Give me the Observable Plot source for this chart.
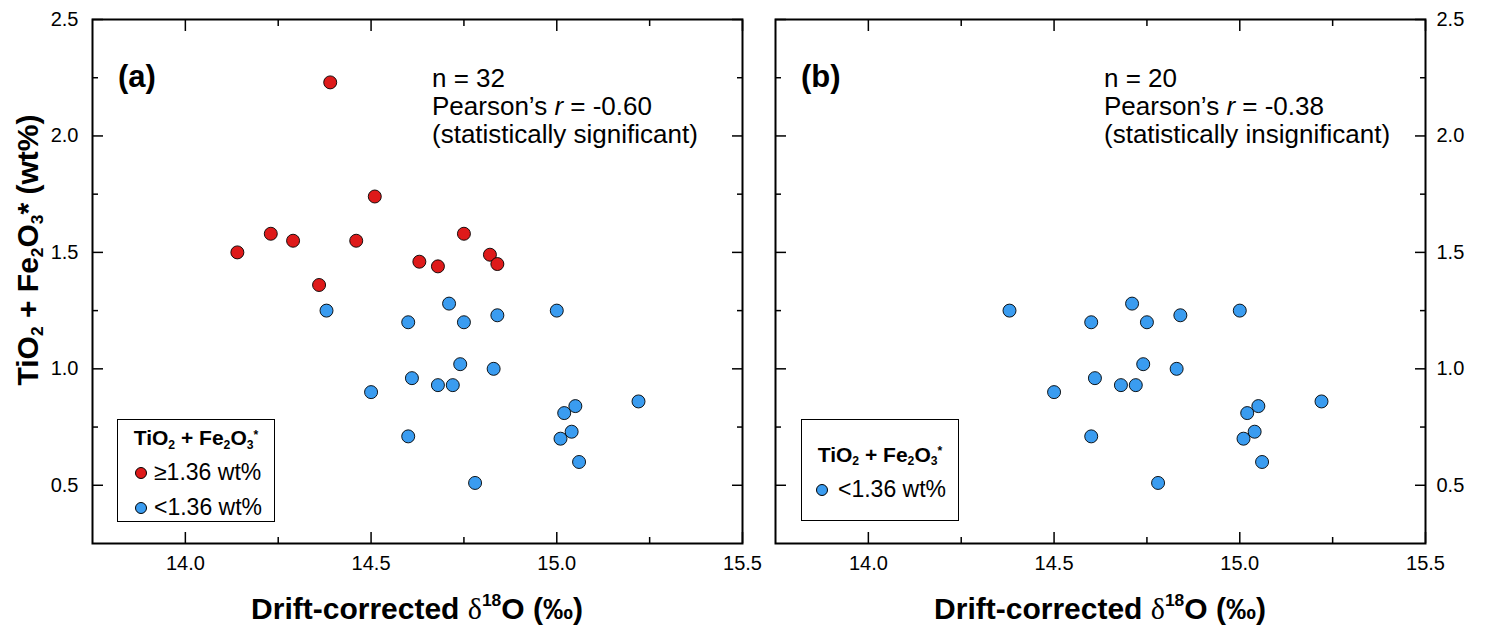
<!DOCTYPE html>
<html>
<head>
<meta charset="utf-8">
<script src="https://cdn.jsdelivr.net/npm/d3@7"></script>
<script src="https://cdn.jsdelivr.net/npm/@observablehq/plot@0.6"></script>
<style>
  html, body { margin: 0; padding: 0; background: #fff; }
  #chart { position: relative; width: 1487px; height: 632px; overflow: hidden; font-family: "Liberation Sans", Arial, sans-serif; color: #000; }
  .plot { position: absolute; top: 0; }
  .abs { position: absolute; white-space: nowrap; }
  .panel { font-weight: bold; font-size: 31px; line-height: 34px; }
  .note { font-size: 26px; line-height: 28px; }
  .axlab { font-weight: bold; font-size: 30px; line-height: 34px; text-align: center; }
  .axlab sub, .axlab sup, .leg sub, .leg sup { font-size: 58%; line-height: 0; position: relative; vertical-align: baseline; }
  .axlab sub, .leg sub { top: 0.3em; }
  .axlab sup { top: -0.75em; }
  .leg sup { top: -0.5em; }
  .delta { font-family: "Liberation Serif", "Times New Roman", serif; font-weight: normal; }
  .leg { border: 1.5px solid #000; box-sizing: border-box; background: #fff; font-size: 23px; }
  .leg .row { height: 35px; line-height: 35px; position: relative; }
  .leg .title { font-weight: bold; font-size: 21px; text-align: center; }
  .leg .sw { position: absolute; top: 12px; width: 12px; height: 12px; border-radius: 50%; border: 1px solid #000; box-sizing: border-box; }
  .leg .lbl { position: absolute; }
</style>
</head>
<body>
<div id="chart"></div>
<script>
// ---- data ----
const redX  = [14.14, 14.23, 14.29, 14.36, 14.39, 14.46, 14.51, 14.63, 14.68, 14.75, 14.82, 14.84];
const redY  = [1.50, 1.58, 1.55, 1.36, 2.23, 1.55, 1.74, 1.46, 1.44, 1.58, 1.49, 1.45];
const blueX = [14.38, 14.50, 14.60, 14.61, 14.60, 14.68, 14.71, 14.72, 14.74, 14.75, 14.78, 14.83, 14.84, 15.00, 15.01, 15.02, 15.04, 15.05, 15.06, 15.22];
const blueY = [1.25, 0.90, 1.20, 0.96, 0.71, 0.93, 1.28, 0.93, 1.02, 1.20, 0.51, 1.00, 1.23, 1.25, 0.70, 0.81, 0.73, 0.84, 0.60, 0.86];
const xMajor = [14.0, 14.5, 15.0, 15.5];
const xMinor = [14.25, 14.75, 15.25];
const yMajor = [0.5, 1.0, 1.5, 2.0, 2.5];
const yMinor = [0.75, 1.25, 1.75, 2.25];
const xDomain = [13.75, 15.5];
const yDomain = [0.25, 2.5];
const RED = "#de1a1a", BLUE = "#3a9cf0";

const red = redX.map((x, i) => ({x, y: redY[i]}));
const blue = blueX.map((x, i) => ({x, y: blueY[i]}));

const fmt = d3.format(".1f");
const none = () => "";
const FS = 20;

function panel({width, marginLeft, marginRight, labelSide, series}) {
  const other = labelSide === "left" ? "right" : "left";
  const tpY = labelSide === "left" ? 25 : 22;
  return Plot.plot({
    width, height: 632,
    marginLeft, marginRight, marginTop: 19, marginBottom: 89,
    x: {domain: xDomain, label: null},
    y: {domain: yDomain, label: null},
    style: {fontFamily: "'Liberation Sans', Arial, sans-serif", fontSize: FS + "px", color: "#000", background: "transparent", overflow: "visible"},
    marks: [
      Plot.axisX(xMajor, {anchor: "bottom", tickSize: -11, tickPadding: 23, tickFormat: fmt, fontSize: FS, strokeWidth: 1.5, label: null}),
      Plot.axisX(xMajor, {anchor: "top", tickSize: -11, tickFormat: none, strokeWidth: 1.5, label: null}),
      Plot.axisX(xMinor, {anchor: "bottom", tickSize: -6, tickFormat: none, strokeWidth: 1.5, label: null}),
      Plot.axisX(xMinor, {anchor: "top", tickSize: -6, tickFormat: none, strokeWidth: 1.5, label: null}),
      Plot.axisY(yMajor, {anchor: labelSide, tickSize: -11, tickPadding: tpY, tickFormat: fmt, fontSize: FS, strokeWidth: 1.5, label: null}),
      Plot.axisY(yMajor, {anchor: other, tickSize: -11, tickFormat: none, strokeWidth: 1.5, label: null}),
      Plot.axisY(yMinor, {anchor: "left", tickSize: -6, tickFormat: none, strokeWidth: 1.5, label: null}),
      Plot.axisY(yMinor, {anchor: "right", tickSize: -6, tickFormat: none, strokeWidth: 1.5, label: null}),
      Plot.frame({stroke: "#000", strokeWidth: 2}),
      ...series.map(s => Plot.dot(s.data, {x: "x", y: "y", r: 6.5, fill: s.color, stroke: "#000", strokeWidth: 0.9}))
    ]
  });
}

const chart = document.getElementById("chart");

const pa = panel({width: 760, marginLeft: 92, marginRight: 18, labelSide: "left",
  series: [{data: red, color: RED}, {data: blue, color: BLUE}]});
pa.classList.add("plot"); pa.style.left = "0px";
chart.appendChild(pa);

const pb = panel({width: 727, marginLeft: 15, marginRight: 62, labelSide: "right",
  series: [{data: blue, color: BLUE}]});
pb.classList.add("plot"); pb.style.left = "760px";
chart.appendChild(pb);

function add(html, cls, style) {
  const d = document.createElement("div");
  d.className = "abs " + cls;
  d.innerHTML = html;
  Object.assign(d.style, style);
  chart.appendChild(d);
  return d;
}

// panel labels
add("(a)", "panel", {left: "118px", top: "60px"});
add("(b)", "panel", {left: "801px", top: "60px"});

// annotations
add("n = 32<br>Pearson’s <i>r</i> = -0.60<br>(statistically significant)", "note", {left: "432px", top: "64px"});
add("n = 20<br>Pearson’s <i>r</i> = -0.38<br>(statistically insignificant)", "note", {left: "1104px", top: "64px"});

// axis labels
const xlab = 'Drift-corrected <span class="delta">δ</span><sup>18</sup>O (‰)';
add(xlab, "axlab", {left: "92px", width: "650px", top: "592px"});
add(xlab, "axlab", {left: "775px", width: "650px", top: "592px"});
add('TiO<sub>2</sub> + Fe<sub>2</sub>O<sub>3</sub>* (wt%)', "axlab",
  {left: "28px", top: "250px", transform: "translate(-50%,-50%) rotate(-90deg)"});

// legends
const legTitle = 'TiO<sub>2</sub> + Fe<sub>2</sub>O<sub>3</sub><sup>*</sup>';
add(`<div class="row title">${legTitle}</div>
     <div class="row"><span class="sw" style="left:17px;background:${RED}"></span><span class="lbl" style="left:36px">≥1.36 wt%</span></div>
     <div class="row"><span class="sw" style="left:17px;background:${BLUE}"></span><span class="lbl" style="left:36px">&lt;1.36 wt%</span></div>`,
  "leg", {left: "117px", top: "419px", width: "158px", height: "103px"});
add(`<div style="height:16.5px"></div><div class="row title">${legTitle}</div>
     <div class="row"><span class="sw" style="left:14px;background:${BLUE}"></span><span class="lbl" style="left:36px">&lt;1.36 wt%</span></div>`,
  "leg", {left: "801px", top: "419px", width: "158px", height: "102px"});
</script>
</body>
</html>
